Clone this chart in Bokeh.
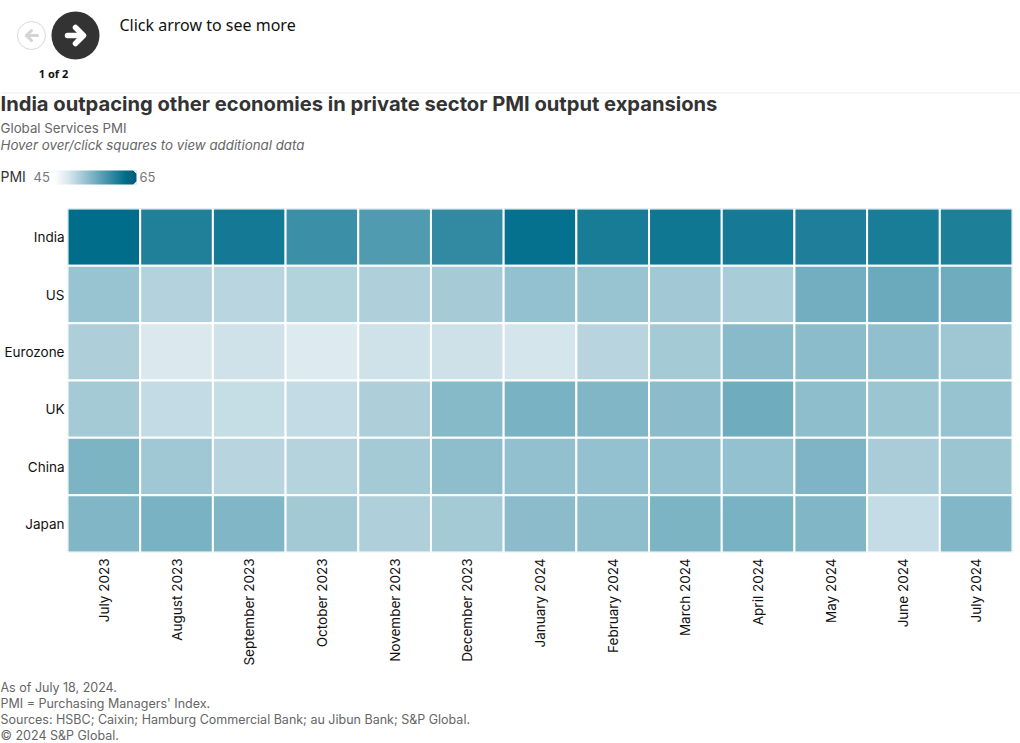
import numpy as np
from bokeh.plotting import figure
from bokeh.layouts import column
from bokeh.models import Range1d, LinearColorMapper, FactorRange, ColumnDataSource
from bokeh.core.properties import value
from bokeh.embed import file_html
from bokeh.resources import INLINE

months = ["July 2023","August 2023","September 2023","October 2023","November 2023","December 2023",
          "January 2024","February 2024","March 2024","April 2024","May 2024","June 2024","July 2024"]
countries = ["India","US","Eurozone","UK","China","Japan"]
india    = [62.3,60.1,61.0,58.4,56.9,59.0,61.8,60.6,61.2,60.8,60.2,60.5,60.3]
us       = [52.3,50.5,50.1,50.6,50.8,51.4,52.5,52.3,51.7,51.3,54.8,55.3,55.0]
eurozone = [50.9,47.9,48.7,47.8,48.7,48.8,48.4,50.2,51.5,53.3,53.2,52.8,51.9]
uk       = [51.5,49.5,49.3,49.5,50.9,53.4,54.3,53.8,53.1,55.0,52.9,52.1,52.4]
china    = [54.1,51.8,50.2,50.4,51.5,52.9,52.7,52.5,52.7,52.5,54.0,51.2,52.1]
japan    = [53.8,54.3,53.8,51.6,50.8,51.5,53.1,52.9,54.1,54.3,53.8,49.4,53.7]
series = [india,us,eurozone,uk,china,japan]
footer = ["As of July 18, 2024.","PMI = Purchasing Managers' Index.",
          "Sources: HSBC; Caixin; Hamburg Commercial Bank; au Jibun Bank; S&P Global.","\u00a9 2024 S&P Global."]
legend_low, legend_high = 45, 65

stops_v = [45, 47.8, 62.3, 65]
stops_r = [250, 221, 0, 0]
stops_g = [252, 234, 110, 92]
stops_b = [253, 240, 140, 122]
levels = np.linspace(legend_low, legend_high, 256)
palette = ["#%02x%02x%02x" % (int(np.interp(l,stops_v,stops_r)), int(np.interp(l,stops_v,stops_g)), int(np.interp(l,stops_v,stops_b))) for l in levels]
mapper = LinearColorMapper(palette=palette, low=legend_low, high=legend_high)

FONT = "Inter"
def canvas(h, y0):
    f = figure(width=1020, height=h, x_range=Range1d(0,1020), y_range=Range1d(y0+h,y0),
               output_backend="svg", toolbar_location=None, x_axis_type=None, y_axis_type=None,
               min_border=0, outline_line_color=None, frame_align=False)
    f.grid.visible = False
    return f
def txt(f, x, y, s, size, color="#333333", font=FONT, style="normal", align="left"):
    f.text([x],[y-1],[s], text_font=value(font), text_font_size=size, text_color=color,
           text_font_style=style, text_baseline="middle", text_align=align)

# header
h = canvas(200, 0)
h.circle([31],[35], radius=14, fill_color="white", line_color="#d9d9d9", line_width=1)
h.circle([75],[35], radius=24, fill_color="#333333", line_color=None)
h.multi_line([[26,37],[31,26,31]],[[35,35],[30,35,40]], line_color="#d4d4d4", line_width=3, line_cap="round", line_join="round")
h.multi_line([[67,82],[75,83,75]],[[35,35],[27,35,43]], line_color="white", line_width=5.5, line_cap="round", line_join="round")
txt(h,119,25,"Click arrow to see more","16px",color="#111111",font="Noto Sans")
txt(h,53,74,"1 of 2","11px",color="#111111",font="Noto Sans",style="bold",align="center")
h.segment([0],[92.5],[1020],[92.5],line_color="#ebebeb",line_width=1)
txt(h,0,104,"India outpacing other economies in private sector PMI output expansions","20.15px",style="bold")
txt(h,0,128,"Global Services PMI","13.3px",color="#666666")
txt(h,0,145,"Hover over/click squares to view additional data","13.3px",color="#666666",style="italic")
txt(h,0,177,"PMI","14px",color="#333333")
txt(h,33,177,"45","13px",color="#777777")
txt(h,139,177,"65","13px",color="#777777")
h.image(image=[np.linspace(legend_low,legend_high,81)[None,:]], x=55, y=170, dw=81, dh=14, color_mapper=mapper)
h.patches([[136,133,136],[136,133,136]],[[170,170,173],[184,184,181]], fill_color="white", line_color="white", line_width=0.5)

# heatmap
xs, ys, vs = [], [], []
for c, row in zip(countries, series):
    for m, v in zip(months, row):
        xs.append(m); ys.append(c); vs.append(v)
src = ColumnDataSource(dict(x=xs, y=ys, v=vs))
p = figure(width=1020, height=480, x_range=FactorRange(*months, range_padding=0),
           y_range=FactorRange(*countries[::-1], range_padding=0),
           output_backend="svg", toolbar_location=None, min_border_left=67, min_border_right=8,
           min_border_top=8, min_border_bottom=128, outline_line_color=None, frame_align=False)
p.rect("x", "y", 1, 1, source=src, fill_color={"field":"v","transform":mapper},
       line_color="white", line_width=2)
p.grid.visible = False
for ax in (p.xaxis[0], p.yaxis[0]):
    ax.axis_line_color = None
    ax.major_tick_line_color = None
    ax.minor_tick_line_color = None
    ax.major_tick_out = 0
    ax.major_tick_in = 0
    ax.major_label_text_font = FONT
    ax.major_label_text_font_size = "13.5px"
    ax.major_label_text_color = "#111111"
    ax.major_label_standoff = 6
p.yaxis[0].major_label_standoff = 3
p.xaxis[0].major_label_orientation = np.pi/2

# footer
f = canvas(63, 680)
for y, s in zip([688,704,720,736], footer):
    txt(f,0,y,s,"12.5px",color="#666666")

layout = column(h, p, f, spacing=0)
open("out.html","w").write(file_html(layout, INLINE))
